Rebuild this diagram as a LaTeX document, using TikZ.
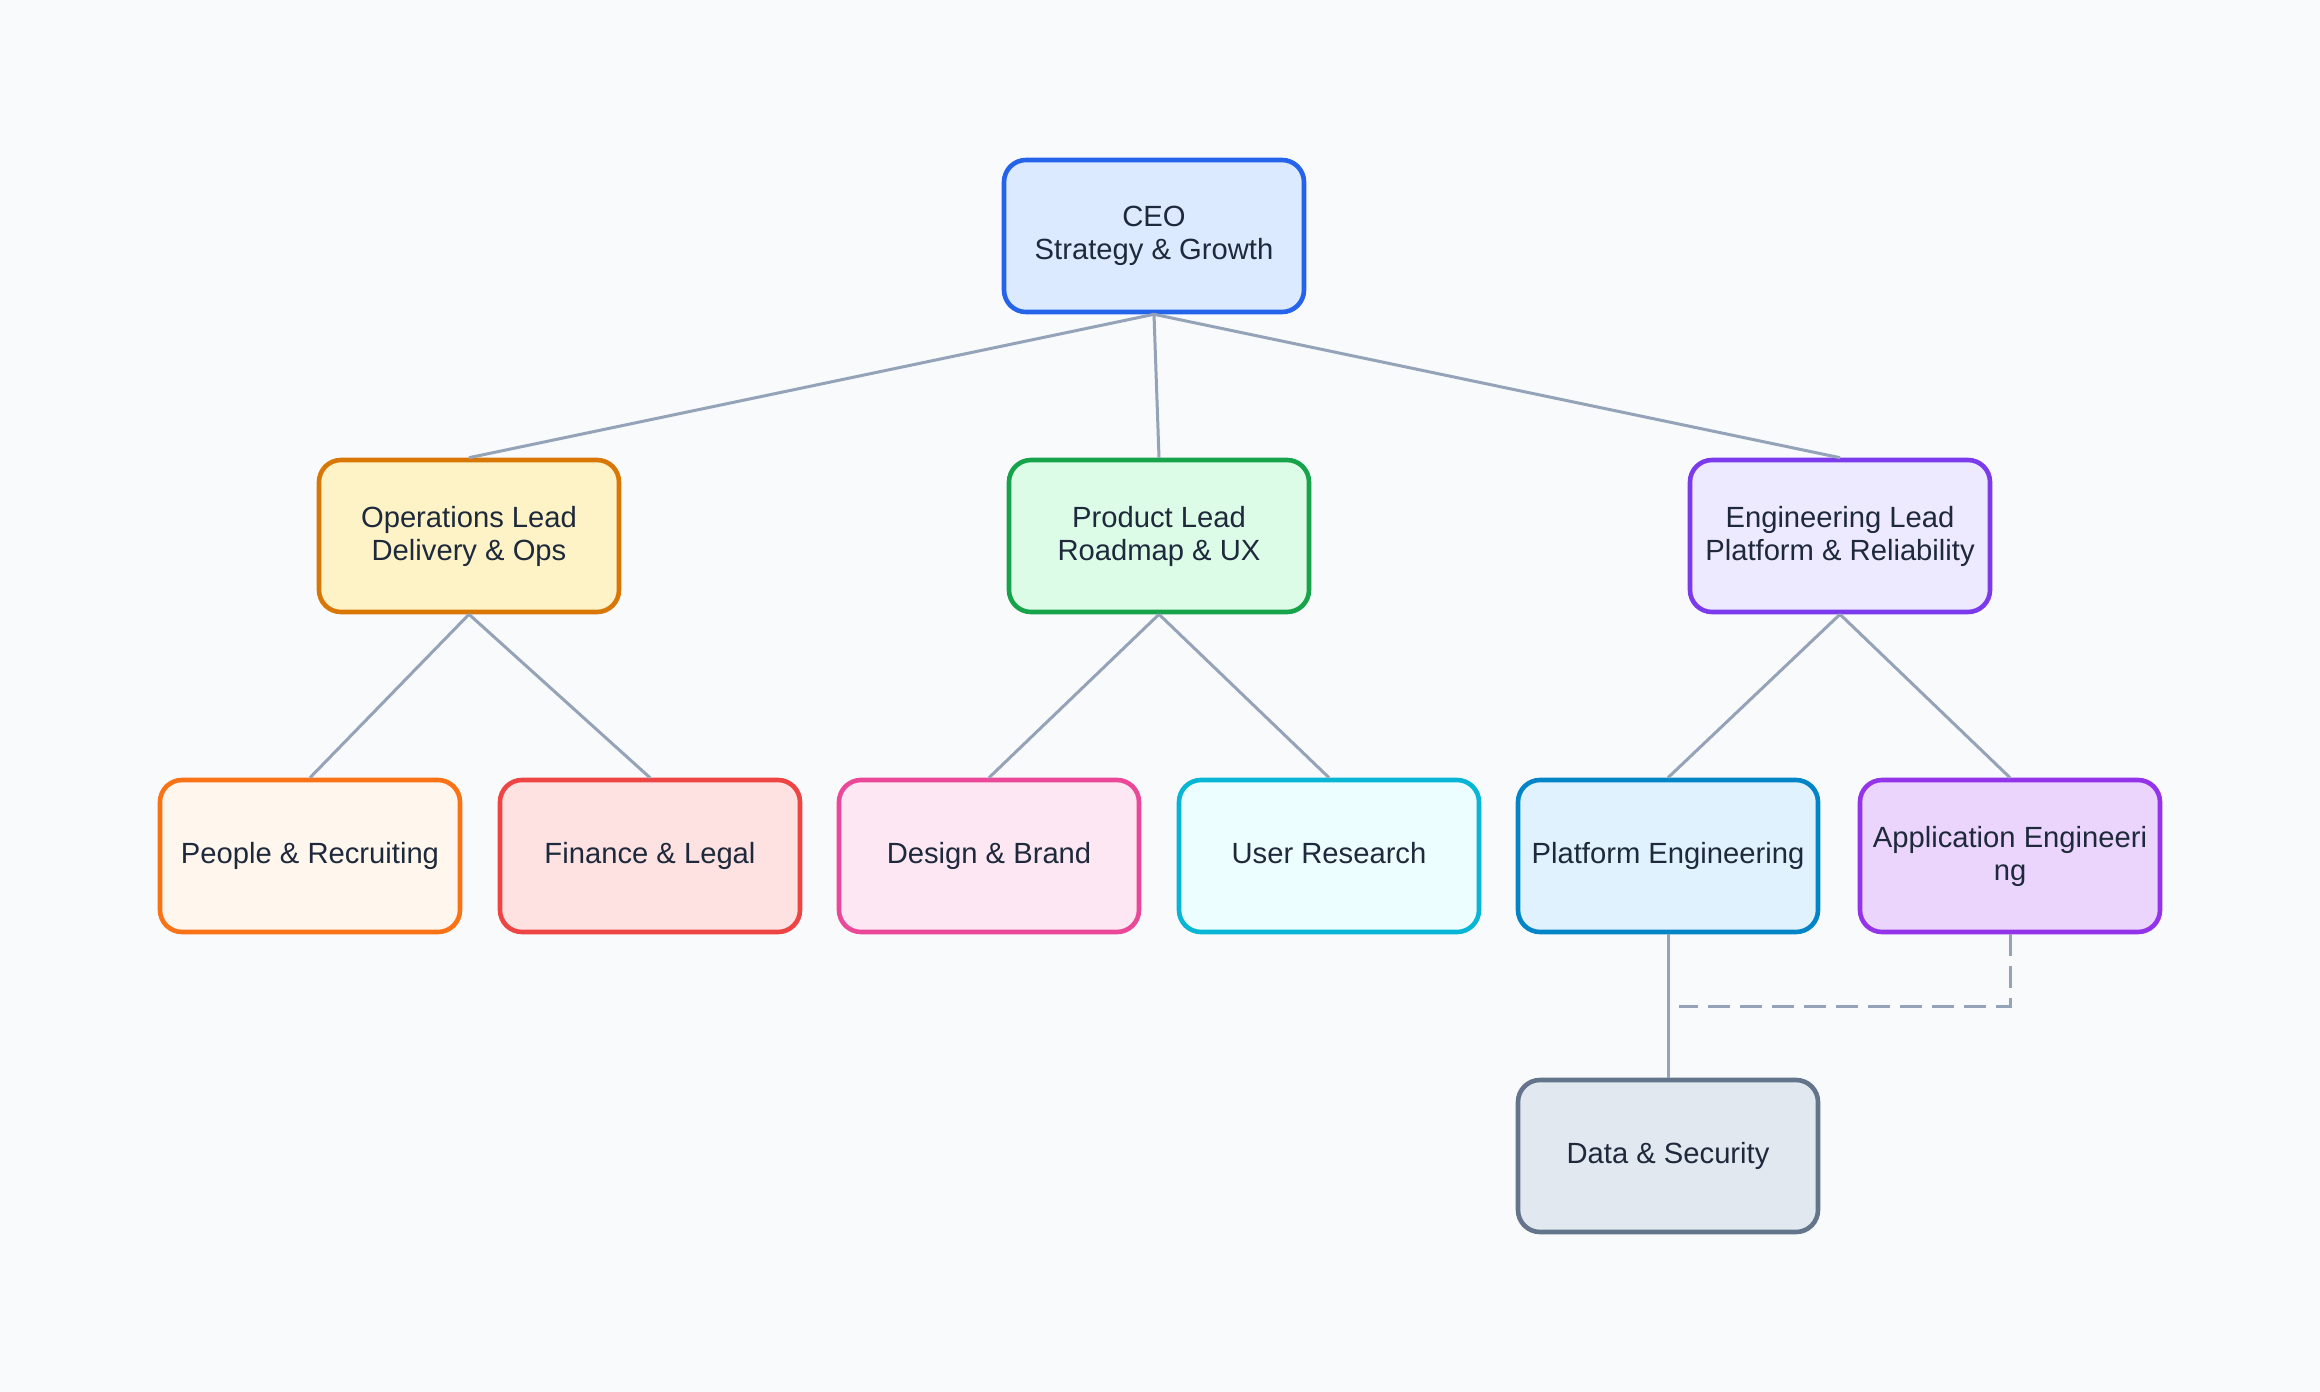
\documentclass[tikz,border=0pt]{standalone}
\usepackage{fontspec}
\setmainfont{Liberation Sans}
\definecolor{bg}{HTML}{F8FAFC}
\definecolor{edge}{HTML}{94A3B8}
\definecolor{txt}{HTML}{1E293B}
\definecolor{ceoF}{HTML}{DBEAFE}\definecolor{ceoD}{HTML}{2563EB}
\definecolor{opsF}{HTML}{FEF3C7}\definecolor{opsD}{HTML}{D97706}
\definecolor{prodF}{HTML}{DCFCE7}\definecolor{prodD}{HTML}{16A34A}
\definecolor{engF}{HTML}{EDE9FE}\definecolor{engD}{HTML}{7C3AED}
\definecolor{peoF}{HTML}{FFF7ED}\definecolor{peoD}{HTML}{F97316}
\definecolor{finF}{HTML}{FEE2E2}\definecolor{finD}{HTML}{EF4444}
\definecolor{desF}{HTML}{FCE7F3}\definecolor{desD}{HTML}{EC4899}
\definecolor{usrF}{HTML}{ECFEFF}\definecolor{usrD}{HTML}{06B6D4}
\definecolor{plaF}{HTML}{E0F2FE}\definecolor{plaD}{HTML}{0284C7}
\definecolor{appF}{HTML}{EBD5FD}\definecolor{appD}{HTML}{9333EA}
\definecolor{datF}{HTML}{E2E8F0}\definecolor{datD}{HTML}{64748B}
\tikzset{
  box/.style 2 args={draw=#2, fill=#1, line width=2.3pt, rounded corners=11pt,
    minimum width=150pt, minimum height=76pt, inner sep=0pt, align=center,
    text=txt, font=\fontsize{14.6}{16.5}\selectfont},
  link/.style={draw=edge, line width=1.5pt},
  dlink/.style={draw=edge, line width=1.5pt, dash pattern=on 11pt off 5pt}
}
\begin{document}
\begin{tikzpicture}[x=0.5pt,y=-0.5pt]
\fill[bg] (0,0) rectangle (2320,1392);
\useasboundingbox (0,0) rectangle (2320,1392);
\node[box={ceoF}{ceoD}] (ceo) at (1154,236) {CEO\\Strategy \& Growth};
\node[box={opsF}{opsD}] (ops) at (469,536) {Operations Lead\\Delivery \& Ops};
\node[box={prodF}{prodD}] (prod) at (1159,536) {Product Lead\\Roadmap \& UX};
\node[box={engF}{engD}] (eng) at (1840,536) {Engineering Lead\\Platform \& Reliability};
\node[box={peoF}{peoD}] (peo) at (310,856) {People \& Recruiting};
\node[box={finF}{finD}] (fin) at (650,856) {Finance \& Legal};
\node[box={desF}{desD}] (des) at (989,856) {Design \& Brand};
\node[box={usrF}{usrD}] (usr) at (1329,856) {User Research\vphantom{g}};
\node[box={plaF}{plaD}] (pla) at (1668,856) {Platform Engineering};
\node[box={appF}{appD}] (app) at (2010,856) {Application Engineeri\\ng};
\node[box={datF}{datD}] (dat) at (1668,1156) {Data \& Security};
\coordinate (join) at (1679,1006);
\draw[link] (ceo.south) -- (ops.north);
\draw[link] (ceo.south) -- (prod.north);
\draw[link] (ceo.south) -- (eng.north);
\draw[link] (ops.south) -- (peo.north);
\draw[link] (ops.south) -- (fin.north);
\draw[link] (prod.south) -- (des.north);
\draw[link] (prod.south) -- (usr.north);
\draw[link] (eng.south) -- (pla.north);
\draw[link] (eng.south) -- (app.north);
\draw[link] (pla.south) -- (dat.north);
\draw[dlink] (app.south) |- (join);
\end{tikzpicture}
\end{document}
